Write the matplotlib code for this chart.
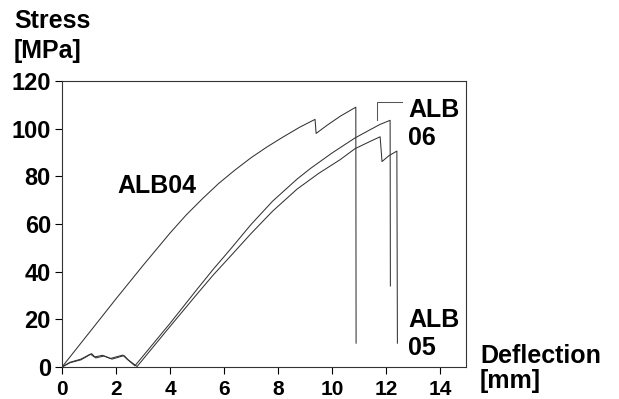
import matplotlib
matplotlib.use("Agg")
import matplotlib.pyplot as plt

plt.rcParams["font.family"] = ["Liberation Sans", "DejaVu Sans"]
plt.rcParams["font.weight"] = "bold"

# ---------------------------------------------------------------------------
# data (deflection in mm, stress in MPa)
# ---------------------------------------------------------------------------
alb04_x = [0.0, 1.0, 2.0, 3.0, 4.0, 4.6, 5.2, 5.8, 6.4, 7.0, 7.6, 8.2, 8.8, 9.37,
           9.41, 9.8, 10.3, 10.8, 10.88, 10.89]
alb04_y = [0.0, 14.3, 28.6, 42.6, 56.2, 63.8, 70.6, 77.0, 82.6, 87.8, 92.4, 96.6, 100.6, 103.9,
           98.0, 101.3, 105.2, 108.5, 109.0, 10.0]

alb06_x = [0.0, 0.3, 0.7, 1.05, 1.2, 1.5, 1.8, 2.25, 2.4, 2.7, 4.0, 5.0, 5.6, 6.28,
           7.0, 7.8, 8.7, 9.2, 10.0, 10.85, 11.4, 11.78, 12.15, 12.16]
alb06_y = [0.0, 2.0, 3.3, 5.4, 4.2, 4.9, 3.6, 5.0, 3.4, 0.5, 18.3, 32.6, 41.0, 50.0,
           59.8, 69.6, 78.8, 83.3, 89.8, 96.1, 99.5, 101.8, 103.5, 34.0]

alb05_x = [0.0, 0.3, 0.7, 1.1, 1.25, 1.55, 1.85, 2.3, 2.45, 2.78, 4.0, 5.0, 5.6, 6.28,
           7.0, 7.8, 8.7, 9.5, 10.3, 10.85, 11.4, 11.78, 11.85, 12.1, 12.4, 12.42]
alb05_y = [0.0, 1.8, 3.0, 5.6, 3.8, 4.6, 3.3, 4.8, 3.0, 0.2, 17.0, 30.6, 38.6, 47.0,
           56.0, 65.4, 74.6, 81.2, 87.0, 91.6, 94.6, 96.6, 86.2, 88.6, 90.6, 10.0]

# leader line from the ALB 06 label to its curve
leader_x = [12.6, 11.65, 11.65]
leader_y = [111.3, 111.3, 103.6]

x_ticks = [0, 2, 4, 6, 8, 10, 12, 14]
y_ticks = [0, 20, 40, 60, 80, 100, 120]

# ---------------------------------------------------------------------------
W, H = 619, 399
fig = plt.figure(figsize=(W / 100, H / 100), dpi=100)
ax = fig.add_axes([62 / W, 1 - 367 / H, (466 - 62) / W, (367 - 81) / H])

lw = 0.75
ax.plot(alb04_x, alb04_y, color="#333333", lw=lw)
ax.plot(alb06_x, alb06_y, color="#333333", lw=lw)
ax.plot(alb05_x, alb05_y, color="#333333", lw=lw)
ax.plot(leader_x, leader_y, color="#555555", lw=lw)

ax.set_xlim(0, 14.96)
ax.set_ylim(0, 120)
ax.set_xticks(x_ticks)
ax.set_yticks(y_ticks)
ax.tick_params(axis="both", direction="out", length=5, width=0.8,
               top=False, right=False)
ax.tick_params(axis="x", pad=4.5, labelsize=15)
ax.tick_params(axis="y", pad=3, labelsize=17)
for lab in ax.get_xticklabels() + ax.get_yticklabels():
    lab.set_fontweight("bold")
for sp in ax.spines.values():
    sp.set_linewidth(0.8)
    sp.set_color("#333333")

# curve labels
lbl = dict(fontsize=18, fontweight="bold", va="baseline", ha="left")
ax.text(2.04, (367 - 193) / 2.383, "ALB04", **lbl)
ax.text(12.81, (367 - 117) / 2.383, "ALB", **lbl)
ax.text(12.81, (367 - 145) / 2.383, "06", **lbl)
ax.text(12.81, (367 - 327) / 2.383, "ALB", clip_on=False, **lbl)
ax.text(12.81, (367 - 355) / 2.383, "05", clip_on=False, **lbl)

# axis titles
fig.text(14 / W, 1 - 28 / H, "Stress", **lbl)
fig.text(14 / W, 1 - 58 / H, "[MPa]", **lbl)
fig.text(480 / W, 1 - 363 / H, "Deflection", **lbl)
fig.text(480 / W, 1 - 388 / H, "[mm]", **lbl)

fig.savefig("out.png", dpi=100)
